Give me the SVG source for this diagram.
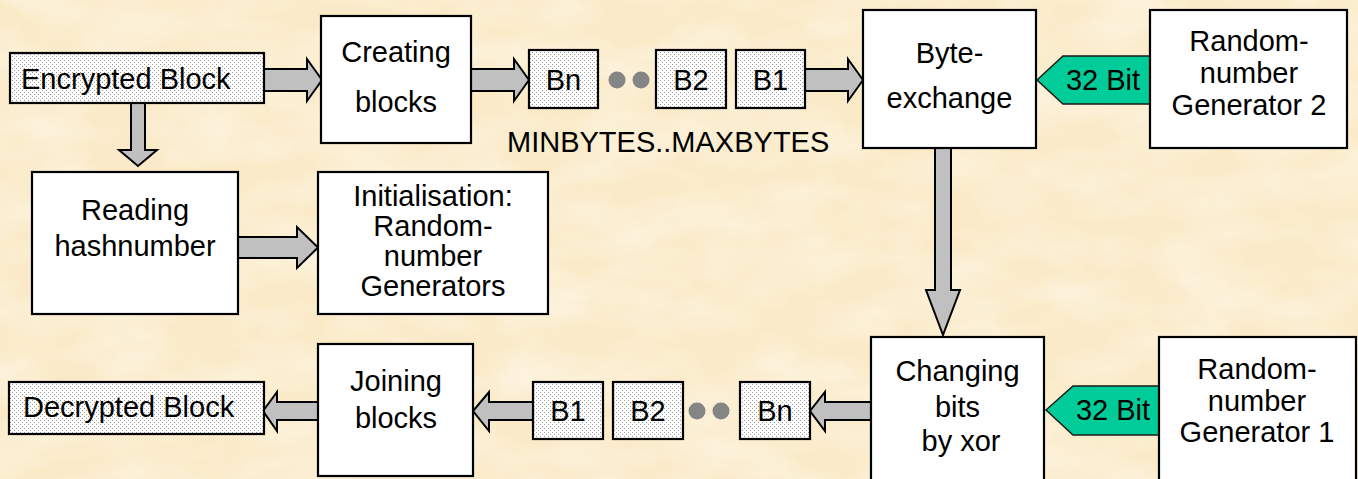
<svg xmlns="http://www.w3.org/2000/svg" width="1358" height="479" viewBox="0 0 1358 479">
<defs>
<style>
.box{fill:#ffffff;stroke:#000;stroke-width:2.2}
.dbox{fill:url(#dots);stroke:#000;stroke-width:2.2}
.arr{fill:#c0c0c0;stroke:#000;stroke-width:2;stroke-linejoin:miter}
.bit{fill:#00cc99;stroke:#1a1a1a;stroke-width:1.5}
.dot{fill:#858585}
text{font-family:"Liberation Sans",Arial,sans-serif;font-size:29px;fill:#000}
.c{text-anchor:middle}
</style>
<pattern id="dots" width="4" height="4" patternUnits="userSpaceOnUse">
<rect width="4" height="4" fill="#ffffff"/>
<rect x="0" y="0" width="1" height="1" fill="#999999"/>
<rect x="2" y="2" width="1" height="1" fill="#999999"/>
</pattern>
<filter id="paper" x="0" y="0" width="100%" height="100%">
<feTurbulence type="fractalNoise" baseFrequency="0.012 0.025" numOctaves="4" seed="7" result="n"/>
<feColorMatrix in="n" type="matrix" values="0 0 0 0 1  0 0 0 0 0.98  0 0 0 0 0.94  0 0 0 1.4 -0.45"/>
</filter>
</defs>
<rect width="1358" height="479" fill="#faeac7"/>
<rect width="1358" height="479" filter="url(#paper)" opacity="0.6"/>

<g id="connectors">
<polygon class="arr" points="264,69 307,69 307,59 322,80 307,101 307,91 264,91"/>
<polygon class="arr" points="131,103 145,103 145,150 157,150 138,166 119,150 131,150"/>
<polygon class="arr" points="471,69 514,69 514,59 529,80 514,101 514,91 471,91"/>
<polygon class="arr" points="805,69 848,69 848,59 863,80 848,101 848,91 805,91"/>
<polygon class="arr" points="935,148 951,148 951,290 960,290 943,335 926,290 935,290"/>
<polygon class="arr" points="238,237 297,237 297,227 318,247.5 297,268 297,258 238,258"/>
<polygon class="arr" points="871,402 825,402 825,392 810,411 825,431 825,420 871,420"/>
<polygon class="arr" points="533,402 489,402 489,392 473,411 489,431 489,420 533,420"/>
<polygon class="arr" points="318,402 277,402 277,392 263,411 277,431 277,420 318,420"/>
<polygon class="bit" points="1037,80 1063,56 1150,56 1150,104 1063,104"/>
<polygon class="bit" points="1046,410 1073,386 1159,386 1159,435 1073,435"/>
</g>

<g id="encrypted">
<rect class="dbox" x="10" y="53" width="254" height="50"/>
<text x="21" y="89">Encrypted Block</text>
</g>
<g id="creating">
<rect class="box" x="321" y="16" width="150" height="127"/>
<text class="c" x="396" y="62">Creating</text>
<text class="c" x="396" y="112">blocks</text>
</g>
<g id="top-bn">
<rect class="dbox" x="529" y="50" width="69" height="58"/>
<text class="c" x="563.5" y="90">Bn</text>
</g>
<g id="top-dots">
<circle class="dot" cx="617" cy="80" r="8.5"/>
<circle class="dot" cx="641" cy="80" r="8.5"/>
</g>
<g id="top-b2">
<rect class="dbox" x="656" y="50" width="70" height="58"/>
<text class="c" x="691" y="90">B2</text>
</g>
<g id="top-b1">
<rect class="dbox" x="736" y="50" width="69" height="58"/>
<text class="c" x="770.5" y="90">B1</text>
</g>
<g id="minmax">
<text x="507" y="152">MINBYTES..MAXBYTES</text>
</g>
<g id="byteexchange">
<rect class="box" x="863" y="10" width="173" height="138"/>
<text class="c" x="949.5" y="63">Byte-</text>
<text class="c" x="949.5" y="108">exchange</text>
</g>
<g id="bit32-top">
<text class="c" x="1103" y="90">32 Bit</text>
</g>
<g id="generator2">
<rect class="box" x="1150" y="10" width="197" height="138"/>
<text class="c" x="1249" y="51">Random-</text>
<text class="c" x="1249" y="83">number</text>
<text class="c" x="1249" y="115">Generator 2</text>
</g>
<g id="reading">
<rect class="box" x="32" y="172" width="206" height="142"/>
<text class="c" x="135" y="220">Reading</text>
<text class="c" x="135" y="256">hashnumber</text>
</g>
<g id="init">
<rect class="box" x="318" y="172" width="230" height="142"/>
<text class="c" x="433" y="206">Initialisation:</text>
<text class="c" x="433" y="236">Random-</text>
<text class="c" x="433" y="266">number</text>
<text class="c" x="433" y="296">Generators</text>
</g>
<g id="changing">
<rect class="box" x="871" y="337" width="173" height="150"/>
<text class="c" x="957.5" y="381">Changing</text>
<text class="c" x="957.5" y="417">bits</text>
<text class="c" x="961" y="451">by xor</text>
</g>
<g id="bit32-bottom">
<text class="c" x="1113" y="420">32 Bit</text>
</g>
<g id="generator1">
<rect class="box" x="1159" y="337" width="197" height="150"/>
<text class="c" x="1257" y="379">Random-</text>
<text class="c" x="1257" y="411">number</text>
<text class="c" x="1257" y="442">Generator 1</text>
</g>
<g id="bot-bn">
<rect class="dbox" x="740" y="382" width="70" height="57"/>
<text class="c" x="775" y="421">Bn</text>
</g>
<g id="bot-dots">
<circle class="dot" cx="697" cy="411" r="8.5"/>
<circle class="dot" cx="721" cy="411" r="8.5"/>
</g>
<g id="bot-b2">
<rect class="dbox" x="613" y="382" width="70" height="57"/>
<text class="c" x="648" y="421">B2</text>
</g>
<g id="bot-b1">
<rect class="dbox" x="533" y="382" width="70" height="57"/>
<text class="c" x="568" y="421">B1</text>
</g>
<g id="joining">
<rect class="box" x="318" y="344" width="155" height="132"/>
<text class="c" x="396" y="391">Joining</text>
<text class="c" x="396" y="428">blocks</text>
</g>
<g id="decrypted">
<rect class="dbox" x="9" y="382" width="255" height="52"/>
<text x="23" y="417">Decrypted Block</text>
</g>
</svg>
